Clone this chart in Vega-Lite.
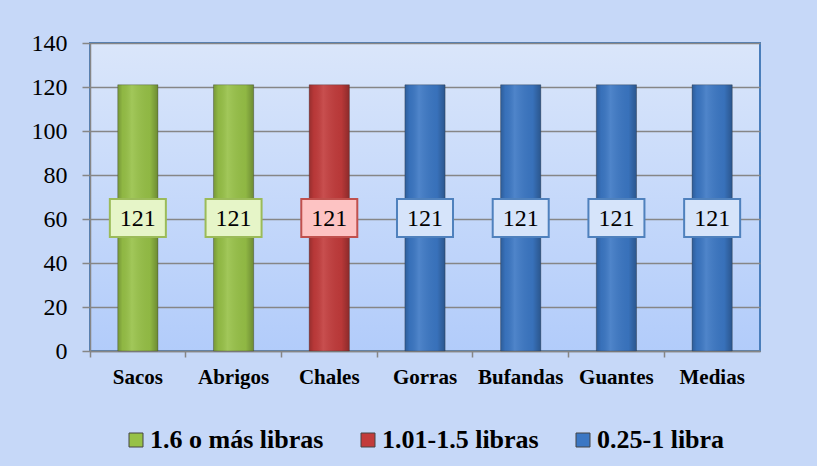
{
  "$schema": "https://vega.github.io/schema/vega-lite/v6.json",
  "width": 670,
  "height": 308,
  "autosize": {"type": "none"},
  "padding": {"left": 90, "top": 43, "right": 57, "bottom": 115},
  "background": "#c6d8f8",
  "data": {
    "values": [
      {"prenda": "Sacos", "grupo": "1.6 o más libras", "valor": 121},
      {"prenda": "Abrigos", "grupo": "1.6 o más libras", "valor": 121},
      {"prenda": "Chales", "grupo": "1.01-1.5 libras", "valor": 121},
      {"prenda": "Gorras", "grupo": "0.25-1 libra", "valor": 121},
      {"prenda": "Bufandas", "grupo": "0.25-1 libra", "valor": 121},
      {"prenda": "Guantes", "grupo": "0.25-1 libra", "valor": 121},
      {"prenda": "Medias", "grupo": "0.25-1 libra", "valor": 121}
    ]
  },
  "encoding": {
    "x": {
      "field": "prenda",
      "type": "nominal",
      "sort": null,
      "scale": {"paddingInner": 0, "paddingOuter": 0},
      "axis": {
        "title": null,
        "labelAngle": 0,
        "bandPosition": 0,
        "labelFont": "Times New Roman, Liberation Serif, serif",
        "labelFontWeight": "bold",
        "labelFontSize": 21,
        "labelColor": "#000000",
        "labelPadding": 9,
        "tickSize": 6,
        "tickColor": "#868686",
        "tickWidth": 1.5,
        "domainColor": "#868686",
        "domainWidth": 1.5,
        "grid": false
      }
    }
  },
  "layer": [
    {
      "mark": {"type": "bar", "width": {"band": 0.42}, "strokeWidth": 1, "stroke": "#3a3a3a", "strokeOpacity": 0.35},
      "encoding": {
        "y": {
          "field": "valor",
          "type": "quantitative",
          "scale": {"domain": [0, 140], "nice": false},
          "axis": {
            "title": null,
            "values": [0, 20, 40, 60, 80, 100, 120, 140],
            "labelFont": "Times New Roman, Liberation Serif, serif",
            "labelFontSize": 24,
            "labelColor": "#000000",
            "labelPadding": 15,
            "tickSize": 8,
            "tickColor": "#868686",
            "tickWidth": 1.5,
            "domainColor": "#868686",
            "domainWidth": 1.5,
            "grid": true,
            "gridColor": "#868686",
            "gridWidth": 1.5
          }
        },
        "fill": {
          "field": "grupo",
          "type": "nominal",
          "scale": {
            "domain": ["1.6 o más libras", "1.01-1.5 libras", "0.25-1 libra"],
            "range": ["#97c147", "#c23b3b", "#3b77c4"]
          },
          "legend": {
            "title": null,
            "orient": "none",
            "direction": "horizontal",
            "legendX": 33,
            "legendY": 384,
            "symbolType": "square",
            "symbolSize": 196,
            "symbolStrokeWidth": 1,
            "symbolStrokeColor": "#444444",
            "labelFont": "Times New Roman, Liberation Serif, serif",
            "labelFontWeight": "bold",
            "labelFontSize": 26,
            "labelColor": "#000000",
            "labelOffset": 1,
            "labelLimit": 400,
            "columnPadding": 31
          }
        }
      }
    },
    {
      "mark": {
        "type": "bar",
        "width": {"band": 0.42},
        "fill": {
          "gradient": "linear",
          "x1": 0, "y1": 0, "x2": 1, "y2": 0,
          "stops": [
            {"offset": 0, "color": "rgba(0,0,0,0.22)"},
            {"offset": 0.12, "color": "rgba(0,0,0,0.05)"},
            {"offset": 0.35, "color": "rgba(255,255,255,0.10)"},
            {"offset": 0.8, "color": "rgba(0,0,0,0.05)"},
            {"offset": 1, "color": "rgba(0,0,0,0.28)"}
          ]
        }
      },
      "encoding": {
        "y": {"field": "valor", "type": "quantitative"}
      }
    },
    {
      "transform": [{"calculate": "datum.valor / 2", "as": "mitad"}],
      "layer": [
        {
          "mark": {
            "type": "point",
            "shape": "M-1.474,-1H1.474V1H-1.474Z",
            "size": 1444,
            "filled": true,
            "opacity": 1,
            "strokeWidth": 2
          },
          "encoding": {
            "y": {"field": "mitad", "type": "quantitative"},
            "fill": {
              "field": "grupo",
              "type": "nominal",
              "scale": {
                "domain": ["1.6 o más libras", "1.01-1.5 libras", "0.25-1 libra"],
                "range": ["#e6f5c8", "#fdc3c3", "#d6e4fa"]
              },
              "legend": null
            },
            "stroke": {
              "field": "grupo",
              "type": "nominal",
              "scale": {
                "domain": ["1.6 o más libras", "1.01-1.5 libras", "0.25-1 libra"],
                "range": ["#9bbb59", "#c0504d", "#4f81bd"]
              },
              "legend": null
            }
          }
        },
        {
          "mark": {
            "type": "text",
            "font": "Times New Roman, Liberation Serif, serif",
            "fontSize": 24,
            "color": "#000000",
            "baseline": "middle",
            "align": "center",
            "dy": 1
          },
          "encoding": {
            "y": {"field": "mitad", "type": "quantitative"},
            "text": {"field": "valor", "type": "quantitative"}
          }
        }
      ]
    }
  ],
  "resolve": {"scale": {"fill": "independent", "stroke": "independent"}},
  "config": {
    "view": {
      "stroke": "#4a7ebb",
      "strokeWidth": 2,
      "fill": {
        "gradient": "linear",
        "x1": 0, "y1": 0, "x2": 0, "y2": 1,
        "stops": [
          {"offset": 0, "color": "#dae6fa"},
          {"offset": 1, "color": "#b2ccfa"}
        ]
      }
    }
  }
}
